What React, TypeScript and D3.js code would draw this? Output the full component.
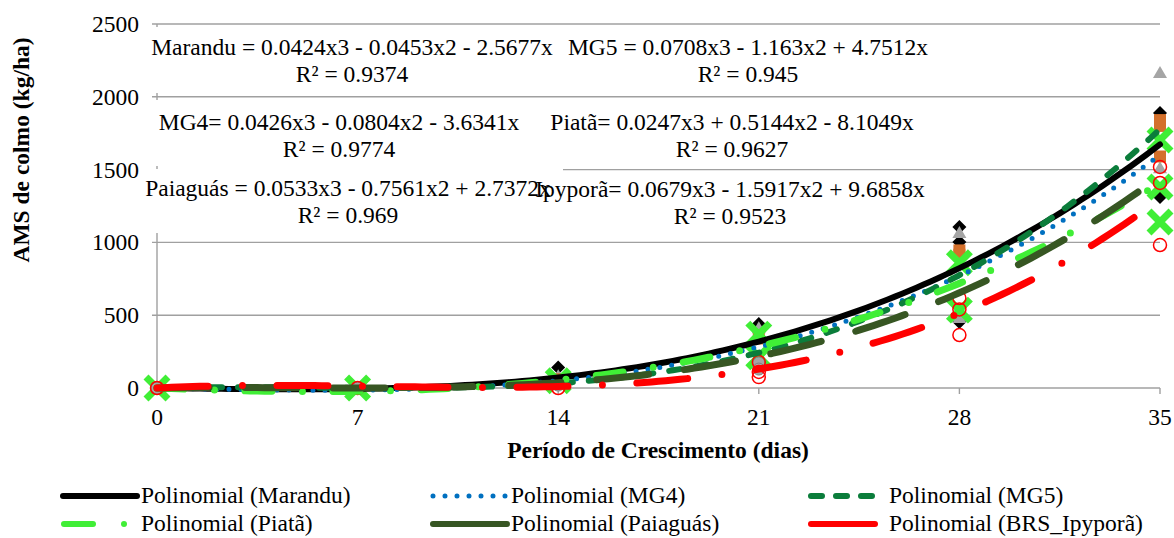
import React from 'react';
import * as d3 from 'd3';

// growth period (days) and y axis ticks
const days = [0, 7, 14, 21, 28, 35];
const yTicks = [0, 500, 1000, 1500, 2000, 2500];

// cubic trend coefficients [x3, x2, x] (intercept 0), as printed on the chart
const coefMarandu = [0.0424, -0.0453, -2.5677];
const coefMG4 = [0.0426, -0.0804, -3.6341];
const coefMG5 = [0.0708, -1.163, 4.7512];
const coefPiata = [0.0247, 0.5144, -8.1049];
const coefPaiaguas = [0.0533, -0.7561, 2.7372];
const coefIpypora = [0.0679, -1.5917, 9.6858];

const obsMarandu = [[0], [0], [140], [440], [1106, 1003, 453], [1889, 1312]];
const obsMG4 = [[0], [0], [80], [410], [1064, 480], [2163, 1510]];
const obsMG5 = [[0], [0], [60], [340], [945, 915], [1840, 1800, 1590]];
const obsPiata = [[0], [0], [50], [370, 215], [860, 535], [1703, 1380, 1140]];
const obsPaiaguas = [[0], [0], [20], [172, 130], [], []];
const obsIpypora = [[0], [0], [0], [178, 110, 75], [618, 540, 364], [1518, 1408, 982]];

// equation labels
const eqMarandu = ['Marandu = 0.0424x3 - 0.0453x2 - 2.5677x', 'R² = 0.9374'];
const eqMG5 = ['MG5 = 0.0708x3 - 1.163x2 + 4.7512x', 'R² = 0.945'];
const eqMG4 = ['MG4= 0.0426x3 - 0.0804x2 - 3.6341x', 'R² = 0.9774'];
const eqPiata = ['Piatã= 0.0247x3 + 0.5144x2 - 8.1049x', 'R² = 0.9627'];
const eqPaiaguas = ['Paiaguás = 0.0533x3 - 0.7561x2 + 2.7372x', 'R² = 0.969'];
const eqIpypora = ['Ipyporã= 0.0679x3 - 1.5917x2 + 9.6858x', 'R² = 0.9523'];

const legendNames = [
  'Polinomial (Marandu)', 'Polinomial (MG4)', 'Polinomial (MG5)',
  'Polinomial (Piatã)', 'Polinomial (Paiaguás)', 'Polinomial (BRS_Ipyporã)',
];

const FONT = "'Liberation Serif', 'DejaVu Serif', serif";
const FS = 23.5;
const txt = { fontFamily: FONT, fontSize: FS };

const series = [
  { coef: coefMarandu, obs: obsMarandu, color: '#000000', width: 6, dash: null, marker: 'diamond' },
  { coef: coefMG4, obs: obsMG4, color: '#0070C0', width: 5, dash: '0 12', marker: 'triangle' },
  { coef: coefMG5, obs: obsMG5, color: '#0B7D3B', width: 6, dash: '11 16', marker: 'square' },
  { coef: coefPiata, obs: obsPiata, color: '#40EE36', width: 7, dash: '27 30.5 0 30.5', marker: 'x' },
  { coef: coefPaiaguas, obs: obsPaiaguas, color: '#375623', width: 7, dash: '52 36', marker: 'gcircle' },
  { coef: coefIpypora, obs: obsIpypora, color: '#FF0000', width: 7, dash: '51 34.5 0 34.5', marker: 'ocircle' },
];

const x = d3.scaleLinear().domain([0, 35]).range([157, 1160]);
const y = d3.scaleLinear().domain([0, 2500]).range([388, 24]);

const poly = (c: number[], t: number) => c[0] * t * t * t + c[1] * t * t + c[2] * t;
const line = d3.line<number>().x(t => x(t));

const Marker = ({ kind, cx, cy }: { kind: string; cx: number; cy: number }) => {
  if (kind === 'diamond') {
    return <path d={`M${cx},${cy - 7}L${cx + 7},${cy}L${cx},${cy + 7}L${cx - 7},${cy}Z`} fill="#000" />;
  }
  if (kind === 'triangle') {
    return <path d={`M${cx},${cy - 7}L${cx + 7},${cy + 5}L${cx - 7},${cy + 5}Z`} fill="#A5A5A5" />;
  }
  if (kind === 'square') {
    return <rect x={cx - 6} y={cy - 6} width={12} height={12} fill="#D4702B" />;
  }
  if (kind === 'x') {
    const r = 11;
    return (
      <path d={`M${cx - r},${cy - r}L${cx + r},${cy + r}M${cx - r},${cy + r}L${cx + r},${cy - r}`}
        stroke="#40EE36" strokeWidth={7} />
    );
  }
  if (kind === 'gcircle') {
    return <circle cx={cx} cy={cy} r={6} fill="#A5A5A5" stroke="#7F7F7F" strokeWidth={1} />;
  }
  return <circle cx={cx} cy={cy} r={6.5} fill="none" stroke="#FF0000" strokeWidth={1.5} />;
};

// label boxes: [x0, x1, y0, y1, centre x, first baseline]
const labels: [string[], number[]][] = [
  [eqMarandu, [140, 560, 27, 93, 352, 55]],
  [eqMG5, [560, 940, 27, 93, 748, 55]],
  [eqMG4, [148, 530, 100, 166, 339, 130]],
  [eqPiata, [540, 925, 100, 166, 732, 130]],
  [eqPaiaguas, [140, 563, 169, 233, 348, 196]],
  [eqIpypora, [525, 935, 171, 234, 730, 197]],
];

const legendPos = [
  [60, 496], [430, 496], [808, 496],
  [60, 524], [430, 524], [808, 524],
];

export default function App() {
  const ts = d3.range(0, 35.001, 0.25);
  return (
    <svg width={1174} height={538} style={{ position: 'absolute', left: 0, top: 0, background: '#fff' }}>
      <rect width={1174} height={538} fill="#fff" />
      {/* gridlines */}
      {yTicks.slice(1).map(v => (
        <line key={v} x1={152} x2={1160} y1={y(v)} y2={y(v)} stroke="#A0A0A0" strokeWidth={1.4} />
      ))}
      {/* axes */}
      <line x1={157} x2={157} y1={y(2500)} y2={y(0)} stroke="#A0A0A0" strokeWidth={1.4} />
      <line x1={152} x2={1160} y1={y(0)} y2={y(0)} stroke="#A0A0A0" strokeWidth={1.4} />
      {days.map(d => (
        <line key={d} x1={x(d)} x2={x(d)} y1={y(0)} y2={y(0) + 6} stroke="#A0A0A0" strokeWidth={1.4} />
      ))}
      {/* observed points */}
      {series.map((s, i) => (
        <g key={'m' + i}>
          {s.obs.map((vals, j) => vals.map((v, k) => (
            <Marker key={j + '-' + k} kind={s.marker} cx={x(days[j])} cy={y(v)} />
          )))}
        </g>
      ))}
      {/* polynomial trendlines */}
      {series.map((s, i) => (
        <path key={'t' + i} d={line.y(t => y(poly(s.coef, t)))(ts) || ''} fill="none"
          stroke={s.color} strokeWidth={s.width} strokeLinecap="round"
          strokeDasharray={s.dash || undefined} />
      ))}
      {/* equation label boxes then text */}
      {labels.map(([, b], i) => (
        <rect key={'b' + i} x={b[0]} y={b[2]} width={b[1] - b[0]} height={b[3] - b[2]} fill="#fff" />
      ))}
      {labels.map(([t, b], i) => (
        <text key={'l' + i} style={txt} textAnchor="middle" fill="#000">
          <tspan x={b[4]} y={b[5]}>{t[0]}</tspan>
          <tspan x={b[4]} y={b[5] + 27}>{t[1]}</tspan>
        </text>
      ))}
      {/* tick labels */}
      {yTicks.map(v => (
        <text key={'y' + v} x={139} y={y(v) + 8} style={txt} textAnchor="end">{v}</text>
      ))}
      {days.map(d => (
        <text key={'x' + d} x={x(d)} y={425} style={txt} textAnchor="middle">{d}</text>
      ))}
      {/* axis titles */}
      <text transform="translate(29,150) rotate(-90)" style={{ ...txt, fontWeight: 'bold' }} textAnchor="middle">
        AMS de colmo (kg/ha)
      </text>
      <text x={658} y={458} style={{ ...txt, fontWeight: 'bold' }} textAnchor="middle">
        Período de Crescimento (dias)
      </text>
      {/* legend */}
      {series.map((s, i) => {
        const [lx, ly] = legendPos[i];
        let sample;
        if (i === 3) {
          sample = (
            <g stroke={s.color} strokeWidth={6} strokeLinecap="round">
              <line x1={lx + 4} x2={lx + 33} y1={ly} y2={ly} />
              <line x1={lx + 64} x2={lx + 64} y1={ly} y2={ly} />
            </g>
          );
        } else {
          const len = i === 5 ? 64 : 74;
          const dash = i === 1 ? '0 12' : i === 2 ? '11 14' : undefined;
          sample = (
            <line x1={lx + 3} x2={lx + 3 + len} y1={ly} y2={ly} stroke={s.color}
              strokeWidth={i === 1 ? 5 : 6} strokeLinecap="round" strokeDasharray={dash} />
          );
        }
        return (
          <g key={'lg' + i}>
            {sample}
            <text x={lx + 81} y={ly + 7} style={txt}>{legendNames[i]}</text>
          </g>
        );
      })}
    </svg>
  );
}
